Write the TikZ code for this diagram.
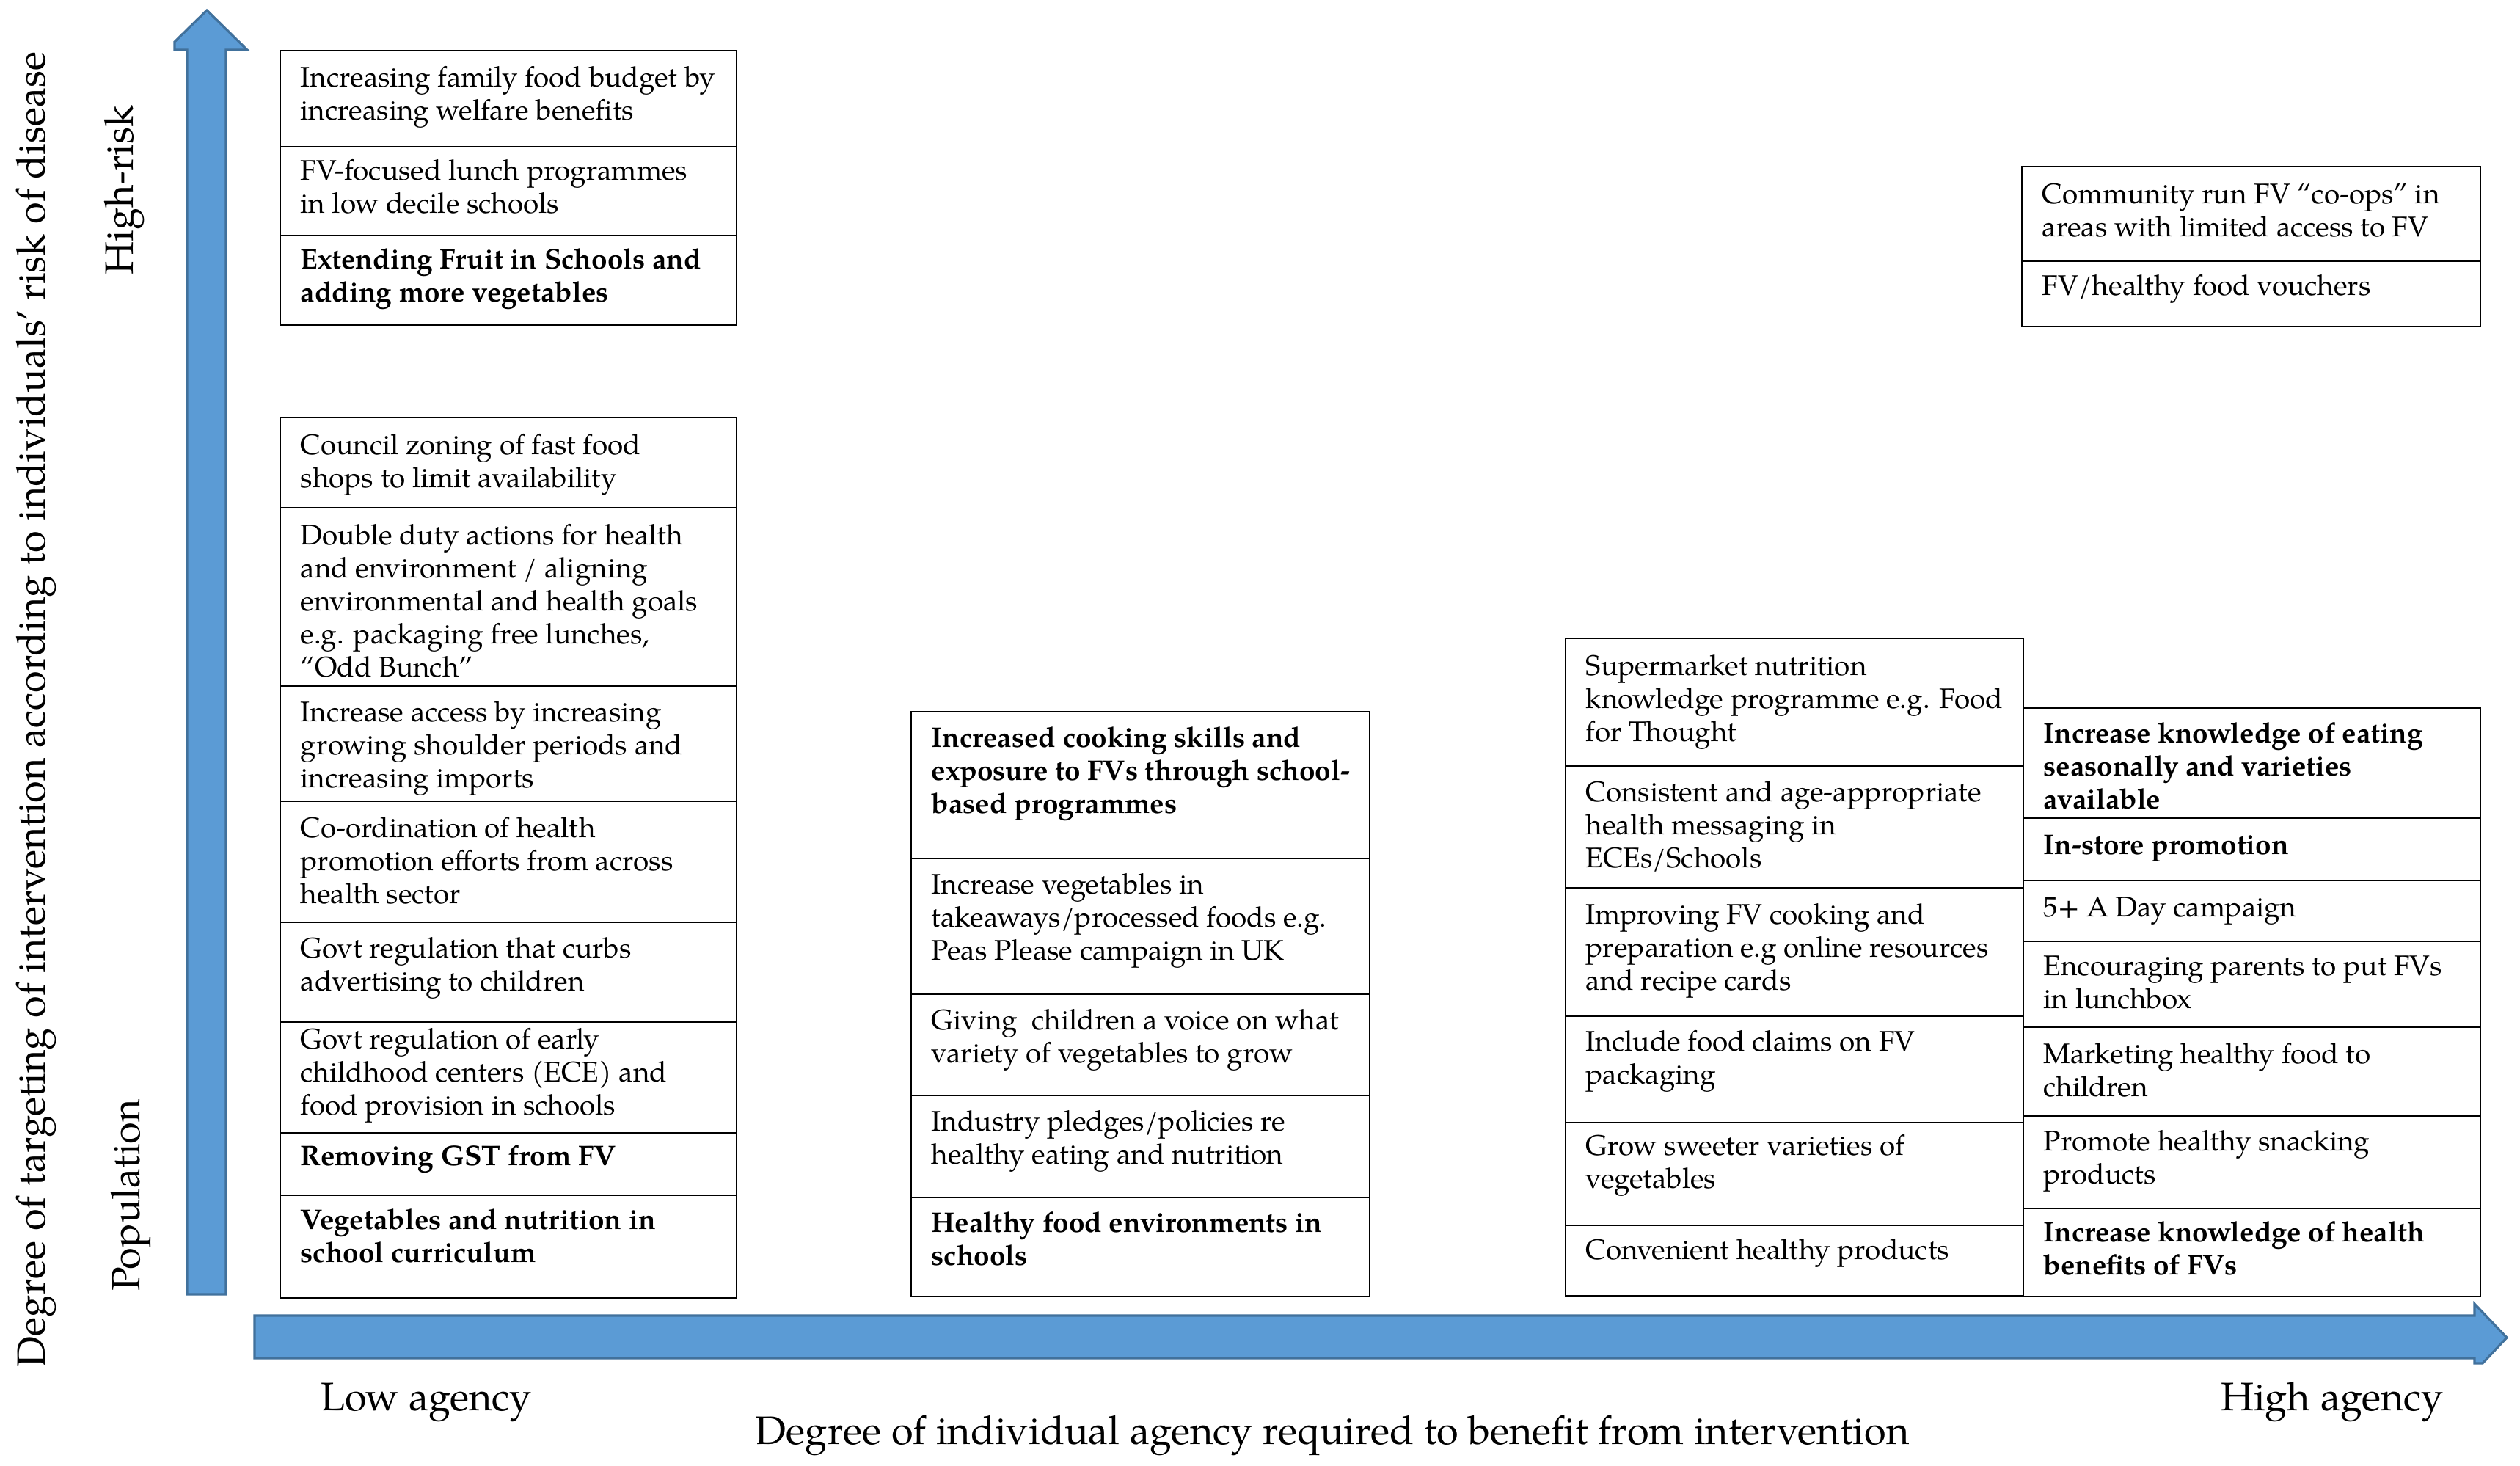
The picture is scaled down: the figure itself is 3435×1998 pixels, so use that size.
\documentclass[tikz,border=0pt]{standalone}
\usepackage{fontspec}
\setmainfont{texgyrepagella}[Extension=.otf, UprightFont=*-regular, BoldFont=*-bold, ItalicFont=*-italic, BoldItalicFont=*-bolditalic]
\usetikzlibrary{fit}
\definecolor{arrfill}{HTML}{5B9BD5}
\definecolor{arrdraw}{HTML}{41719C}
% style, name, x1, y1, x2, y2, baseline offset, text
\newcommand\cellg[8]{%
  \node[cellbox, fit={(#3,#4) (#5,#6)}] (#2) {};
  \node[#1, anchor=north west] (#2t) at ({#3+27},{#4+#7-31.5}) {\strut #8};}
\begin{document}
\begin{tikzpicture}[x=0.01cm,y=-0.01cm,
  cellbox/.style={draw=black, line width=0.7pt, inner sep=0pt},
  ctext/.style={font=\fontsize{11}{12.8}\selectfont, align=left, inner sep=0pt},
  btext/.style={font=\fontsize{11}{12.8}\selectfont\bfseries, align=left, inner sep=0pt},
  axlabel/.style={font=\fontsize{15.4}{18}\selectfont, inner sep=0pt},
  arrowshape/.style={fill=arrfill, draw=arrdraw, line width=0.9pt, line join=miter}]
\useasboundingbox (0,0) rectangle (3435,1998);
\fill[white] (0,0) rectangle (3435,1998);

% axes arrows
\draw[arrowshape] (255,1764) -- (255,68) -- (238,68) -- (238,57) -- (282,14)
  -- (337,68) -- (308,68) -- (308,1764) -- cycle;
\draw[arrowshape] (347,1793) -- (3373,1793) -- (3373,1777) -- (3417,1823)
  -- (3384,1858) -- (3373,1858) -- (3373,1851) -- (347,1851) -- cycle;

% axis labels
\node[axlabel, rotate=90, anchor=base] (ylab) at (61,967)
  {Degree of targeting of intervention according to individuals’ risk of disease};
\node[axlabel, rotate=90, anchor=base] (highrisk) at (181,259) {High-risk};
\node[axlabel, rotate=90, anchor=base] (population) at (190,1629) {Population};
\node[axlabel, anchor=base] (lowag) at (581,1922) {Low agency};
\node[axlabel, anchor=base] (highag) at (3179,1922) {High agency};
\node[axlabel, anchor=base] (xlab) at (1816,1968)
  {Degree of individual agency required to benefit from intervention};

% left column, top group
\cellg{ctext}{a1}{382}{69}{1004}{200}{49}{Increasing family food budget by\\increasing welfare benefits}
\cellg{ctext}{a2}{382}{200}{1004}{321}{45}{FV-focused lunch programmes\\in low decile schools}
\cellg{btext}{a3}{382}{321}{1004}{443}{45}{Extending Fruit in Schools and\\adding more vegetables}

% left column, lower group
\cellg{ctext}{b1}{382}{569}{1004}{692}{50}{Council zoning of fast food\\shops to limit availability}
\cellg{ctext}{b2}{382}{692}{1004}{935}{50}{Double duty actions for health\\and environment / aligning\\environmental and health goals\\e.g. packaging free lunches,\\“Odd Bunch”}
\cellg{ctext}{b3}{382}{935}{1004}{1092}{48}{Increase access by increasing\\growing shoulder periods and\\increasing imports}
\cellg{ctext}{b4}{382}{1092}{1004}{1257}{49}{Co-ordination of health\\promotion efforts from across\\health sector}
\cellg{ctext}{b5}{382}{1257}{1004}{1393}{48}{Govt regulation that curbs\\advertising to children}
\cellg{ctext}{b6}{382}{1393}{1004}{1544}{36}{Govt regulation of early\\childhood centers (ECE) and\\food provision in schools}
\cellg{btext}{b7}{382}{1544}{1004}{1629}{44}{Removing GST from FV}
\cellg{btext}{b8}{382}{1629}{1004}{1769}{46}{Vegetables and nutrition in\\school curriculum}

% middle column
\cellg{btext}{m1}{1242}{970}{1867}{1170}{48}{Increased cooking skills and\\exposure to FVs through school-\\based programmes}
\cellg{ctext}{m2}{1242}{1170}{1867}{1355}{48}{Increase vegetables in\\takeaways/processed foods e.g.\\Peas Please campaign in UK}
\cellg{ctext}{m3}{1242}{1355}{1867}{1493}{48}{Giving \ children a voice on what\\variety of vegetables to grow}
\cellg{ctext}{m4}{1242}{1493}{1867}{1632}{48}{Industry pledges/policies re\\healthy eating and nutrition}
\cellg{btext}{m5}{1242}{1632}{1867}{1767}{47}{Healthy food environments in\\schools}

% right-hand inner column
\cellg{ctext}{r1}{2134}{870}{2758}{1044}{50}{Supermarket nutrition\\knowledge programme e.g. Food\\for Thought}
\cellg{ctext}{r2}{2134}{1044}{2758}{1210}{48}{Consistent and age-appropriate\\health messaging in\\ECEs/Schools}
\cellg{ctext}{r3}{2134}{1210}{2758}{1385}{49}{Improving FV cooking and\\preparation e.g online resources\\and recipe cards}
\cellg{ctext}{r4}{2134}{1385}{2758}{1530}{47}{Include food claims on FV\\packaging}
\cellg{ctext}{r5}{2134}{1530}{2758}{1670}{44}{Grow sweeter varieties of\\vegetables}
\cellg{ctext}{r6}{2134}{1670}{2758}{1766}{46}{Convenient healthy products}

% right-hand outer column
\cellg{btext}{s1}{2758}{965}{3381}{1115}{47}{Increase knowledge of eating\\seasonally and varieties\\available}
\cellg{btext}{s2}{2758}{1115}{3381}{1200}{49}{In-store promotion}
\cellg{ctext}{s3}{2758}{1200}{3381}{1283}{49}{5+ A Day campaign}
\cellg{ctext}{s4}{2758}{1283}{3381}{1400}{46}{Encouraging parents to put FVs\\in lunchbox}
\cellg{ctext}{s5}{2758}{1400}{3381}{1521}{49}{Marketing healthy food to\\children}
\cellg{ctext}{s6}{2758}{1521}{3381}{1647}{47}{Promote healthy snacking\\products}
\cellg{btext}{s7}{2758}{1647}{3381}{1767}{45}{Increase knowledge of health\\benefits of FVs}

% top right group
\cellg{ctext}{t1}{2756}{227}{3381}{356}{50}{Community run FV “co-ops” in\\areas with limited access to FV}
\cellg{ctext}{t2}{2756}{356}{3381}{445}{46}{FV/healthy food vouchers}
\end{tikzpicture}
\end{document}
